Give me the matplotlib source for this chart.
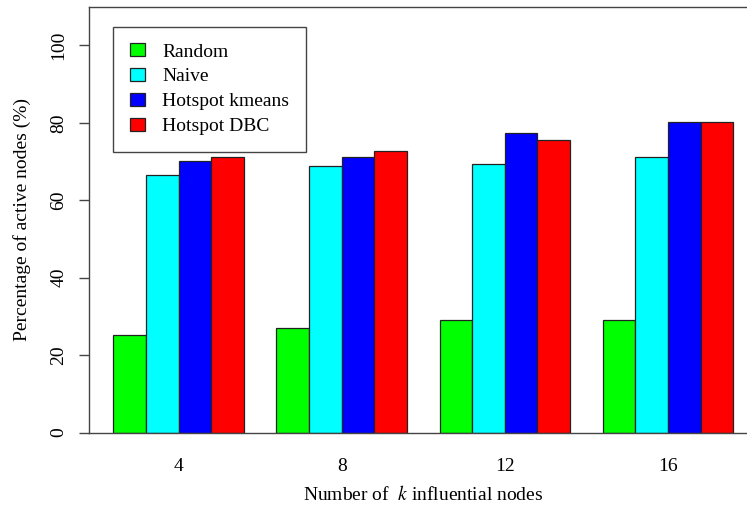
import matplotlib
matplotlib.use('Agg')
import matplotlib.pyplot as plt
import numpy as np

plt.rcParams['font.family'] = ['Liberation Serif', 'DejaVu Serif']
plt.rcParams['mathtext.fontset'] = 'stix'

# percentage of active nodes for each seeding strategy
k_values = ['4', '8', '12', '16']
methods = ['Random', 'Naive', 'Hotspot kmeans', 'Hotspot DBC']
random_vals = [25.2, 27.0, 29.0, 29.0]
naive_vals = [66.6, 68.8, 69.3, 71.2]
kmeans_vals = [70.1, 71.2, 77.5, 80.2]
dbc_vals = [71.2, 72.8, 75.6, 80.2]
colors = ['#00ff00', '#00ffff', '#0000ff', '#ff0000']

series = [random_vals, naive_vals, kmeans_vals, dbc_vals]

W, H = 747, 511
fig = plt.figure(figsize=(W / 100, H / 100), dpi=100)
# plot region in pixels (left, top, right, bottom); right side runs past the canvas
l, t, r, b = 88.5, 6.7, 758.0, 432.5
ax = fig.add_axes([l / W, 1 - b / H, (r - l) / W, (b - t) / H])

n = len(methods)
group_start = 1 + np.arange(len(k_values)) * (n + 1)
for i, (vals, c) in enumerate(zip(series, colors)):
    ax.bar(group_start + i, vals, width=1.0, align='edge', color=c,
           edgecolor='#222222', linewidth=0.9, label=methods[i])

ax.set_xlim(0.24, 20.76)
ax.set_ylim(0, 110)
ax.set_xticks(group_start + n / 2)
ax.set_xticklabels(k_values)
ax.set_yticks([0, 20, 40, 60, 80, 100])
ax.tick_params(axis='x', length=0, pad=18, labelsize=14)
ax.tick_params(axis='y', length=7.2, width=1, color='#444444', pad=8,
               labelsize=14, labelrotation=90)
for lab in ax.get_yticklabels():
    lab.set_va('center')

for s in ax.spines.values():
    s.set_color('#444444')
    s.set_linewidth(1)

ax.set_ylabel('Percentage of active nodes (%)', fontsize=14, labelpad=14)
fig.text((l + (r - l) / 2) / W, 1 - 494 / H,
         r'Number of  $\mathit{k}$ influential nodes', fontsize=14,
         ha='center', va='center')

leg = ax.legend(loc='upper left', bbox_to_anchor=(113.3 / W, 1 - 26.7 / H),
                bbox_transform=fig.transFigure, borderaxespad=0,
                fontsize=14, fancybox=False, framealpha=1,
                handlelength=0.77, handleheight=0.67, handletextpad=0.9,
                borderpad=0.85, labelspacing=0.38)
leg.get_frame().set_edgecolor('#444444')
leg.get_frame().set_linewidth(1)

fig.savefig('out.png', dpi=100)
